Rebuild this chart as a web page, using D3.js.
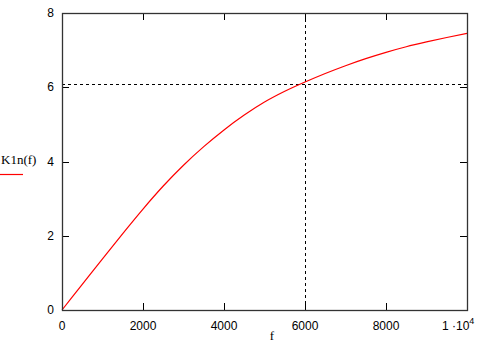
<!DOCTYPE html>
<html>
<head>
<meta charset="utf-8">
<script src="https://cdn.jsdelivr.net/npm/d3@7"></script>
<style>
  html, body { margin: 0; padding: 0; background: #fff; }
  svg { display: block; }
</style>
</head>
<body>
<div id="chart"></div>
<script>
// Curve K1n(f)
const fValues = [0, 500, 1000, 1500, 2000, 2500, 3000, 3500, 4000, 4500, 5000,
                 5500, 6000, 6500, 7000, 7500, 8000, 8500, 9000, 9500, 10000];
const k1nValues = [0, 0.69, 1.38, 2.06, 2.72, 3.34, 3.90, 4.40, 4.85, 5.25, 5.60,
                   5.89, 6.14, 6.37, 6.58, 6.77, 6.94, 7.09, 7.22, 7.34, 7.45];
const xTicks = [0, 2000, 4000, 6000, 8000, 10000];
const yTicks = [0, 2, 4, 6, 8];
const markerF = 6000;
const markerK = 6.1;

const W = 479, H = 345;
const margin = { top: 13, right: 12, bottom: 35, left: 62 };
const width = W - margin.left - margin.right;
const height = H - margin.top - margin.bottom;

const svg = d3.select('#chart').append('svg')
    .attr('width', W).attr('height', H);

const g = svg.append('g')
    .attr('transform', `translate(${margin.left},${margin.top})`);

const x = d3.scaleLinear().domain([0, 10000]).range([0, width]);
const y = d3.scaleLinear().domain([0, 8]).range([height, 0]);

const tickLen = 7;
const tickFont = '"Liberation Sans", Arial, sans-serif';

// Inward ticks on all four sides
const inner = yTicks.slice(1, -1);
const innerX = xTicks.slice(1, -1);
g.selectAll('.tl').data(inner).enter().append('line')
    .attr('x1', 0).attr('x2', tickLen)
    .attr('y1', d => Math.round(y(d)) + 0.5).attr('y2', d => Math.round(y(d)) + 0.5)
    .attr('stroke', '#000');
g.selectAll('.tr').data(inner).enter().append('line')
    .attr('x1', width).attr('x2', width - tickLen)
    .attr('y1', d => Math.round(y(d)) + 0.5).attr('y2', d => Math.round(y(d)) + 0.5)
    .attr('stroke', '#000');
g.selectAll('.tb').data(innerX).enter().append('line')
    .attr('x1', d => Math.round(x(d)) + 0.5).attr('x2', d => Math.round(x(d)) + 0.5)
    .attr('y1', height).attr('y2', height - tickLen)
    .attr('stroke', '#000');
g.selectAll('.tt').data(innerX).enter().append('line')
    .attr('x1', d => Math.round(x(d)) + 0.5).attr('x2', d => Math.round(x(d)) + 0.5)
    .attr('y1', 0).attr('y2', tickLen)
    .attr('stroke', '#000');

// Dashed marker lines
g.append('line')
    .attr('x1', 0).attr('x2', width)
    .attr('y1', Math.round(y(markerK)) + 0.5).attr('y2', Math.round(y(markerK)) + 0.5)
    .attr('stroke', '#000').attr('stroke-dasharray', '3,3');
g.append('line')
    .attr('x1', Math.round(x(markerF)) + 0.5).attr('x2', Math.round(x(markerF)) + 0.5)
    .attr('y1', 0).attr('y2', height)
    .attr('stroke', '#000').attr('stroke-dasharray', '3,3');

// Curve
const line = d3.line()
    .x((d, i) => x(fValues[i]))
    .y(d => y(d))
    .curve(d3.curveMonotoneX);

g.append('path')
    .datum(k1nValues)
    .attr('fill', 'none')
    .attr('stroke', '#ff0000')
    .attr('stroke-width', 1.2)
    .attr('d', line);

// Frame
g.append('rect')
    .attr('x', 0.5).attr('y', 0.5)
    .attr('width', width).attr('height', height)
    .attr('fill', 'none')
    .attr('stroke', '#333')
    .attr('stroke-width', 1.3);

// Tick labels
g.selectAll('.yl').data(yTicks).enter().append('text')
    .attr('x', -8).attr('y', d => y(d) + 4)
    .attr('text-anchor', 'end')
    .style('font-family', tickFont).style('font-size', '12px')
    .text(d => d);

const xl = g.selectAll('.xl').data(xTicks).enter().append('text')
    .attr('x', d => d === 10000 ? x(d) - 25 : x(d)).attr('y', height + 20)
    .attr('text-anchor', d => d === 10000 ? 'start' : 'middle')
    .style('font-family', tickFont).style('font-size', '12px');
xl.each(function (d) {
    const t = d3.select(this);
    if (d === 10000) {
        t.append('tspan').text('1 \u00b710');
        t.append('tspan').attr('dy', -6).style('font-size', '9px').text('4');
    } else {
        t.text(d);
    }
});

// Axis title and legend
svg.append('text')
    .attr('x', 272).attr('y', 340)
    .attr('text-anchor', 'middle')
    .style('font-family', '"Liberation Serif", "Times New Roman", serif')
    .style('font-size', '13px')
    .text('f');

svg.append('text')
    .attr('x', 1).attr('y', 164)
    .style('font-family', '"Liberation Serif", "Times New Roman", serif')
    .style('font-size', '13px')
    .text('K1n(f)');
svg.append('line')
    .attr('x1', 0).attr('x2', 23)
    .attr('y1', 174.5).attr('y2', 174.5)
    .attr('stroke', '#ff0000').attr('stroke-width', 1.2);
</script>
</body>
</html>
